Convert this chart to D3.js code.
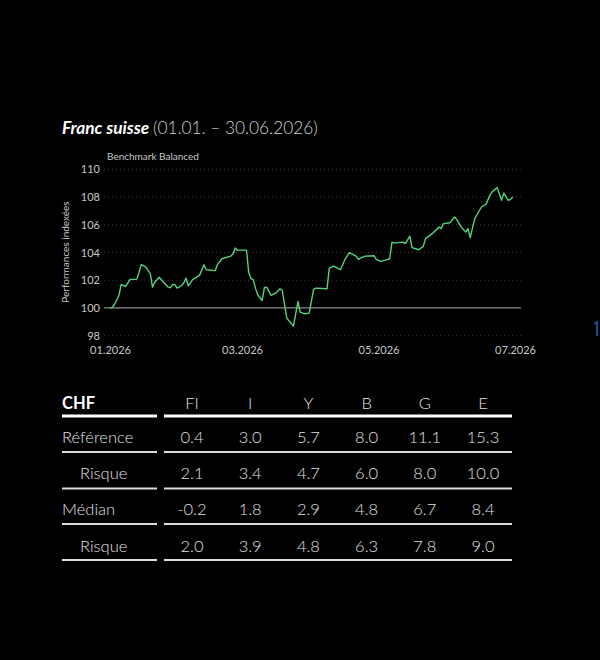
<!DOCTYPE html>
<html>
<head>
<meta charset="utf-8">
<script src="https://cdn.jsdelivr.net/npm/d3@7"></script>
<style>
  body { margin: 0; background: #000; }
  svg { display: block; font-family: Lato, "Open Sans", sans-serif; }
</style>
</head>
<body>
<div id="container"></div>
<script>
// données
let dates = ["01-01","01-02","01-03","01-05","01-06","01-07","01-08","01-10","01-12","01-13",
  "01-14","01-15","01-17","01-19","01-20","01-21","01-23","01-25","01-27","01-28",
  "01-29","01-30","01-31","02-02","02-03","02-04","02-05","02-07","02-08","02-10",
  "02-12","02-13","02-17","02-18","02-20","02-24","02-25","02-26","02-27","03-02",
  "03-03","03-04","03-05","03-06","03-07","03-08","03-10","03-11","03-12","03-14",
  "03-16","03-18","03-19","03-21","03-24","03-26","03-27","03-29","03-31","04-02",
  "04-03","04-08","04-09","04-11","04-14","04-16","04-18","04-21","04-22","04-23",
  "04-25","04-29","04-30","05-02","05-04","05-06","05-07","05-08","05-12","05-13",
  "05-15","05-16","05-19","05-21","05-22","05-25","05-28","05-29","05-30","06-02",
  "06-04","06-05","06-07","06-09","06-10","06-11","06-13","06-16","06-18","06-20",
  "06-21","06-23","06-25","06-26","06-28","06-29","06-30"];
let values = [100.0,100.04,100.25,100.9,101.7,101.62,101.55,102.06,102.06,102.08,
  102.58,103.14,102.95,102.47,101.5,101.86,102.22,101.86,101.5,101.46,
  101.7,101.68,101.43,101.62,101.82,102.15,101.6,102.06,102.15,102.35,
  103.12,102.76,102.69,103.12,103.55,103.74,103.91,104.32,104.15,104.17,
  104.17,102.58,102.11,102.04,101.43,100.95,100.54,101.46,101.5,100.9,
  101.07,101.39,101.26,99.26,98.69,100.47,99.7,99.58,99.63,101.34,
  101.43,101.39,102.87,103.02,102.76,103.5,103.99,103.74,103.5,103.6,
  103.74,103.77,103.5,103.36,103.45,103.55,104.75,104.68,104.75,104.64,
  105.18,104.35,104.2,104.44,105.0,105.36,105.83,105.72,106.08,106.15,
  106.56,106.37,105.83,105.47,105.72,105.07,106.44,107.28,107.47,108.19,
  108.41,108.68,107.76,108.29,107.76,107.83,108.0];
let yTicks = [98, 100, 102, 104, 106, 108, 110];
let xTicks = ["2026-01-01", "2026-03-01", "2026-05-01", "2026-07-01"];

let columns = ["FI", "I", "Y", "B", "G", "E"];
let rowLabels = ["Référence", "Risque", "Médian", "Risque"];
let rowIndent = [false, true, false, true];
let reference = ["0.4", "3.0", "5.7", "8.0", "11.1", "15.3"];
let referenceRisk = ["2.1", "3.4", "4.7", "6.0", "8.0", "10.0"];
let median = ["-0.2", "1.8", "2.9", "4.8", "6.7", "8.4"];
let medianRisk = ["2.0", "3.9", "4.8", "6.3", "7.8", "9.0"];
let rows = [reference, referenceRisk, median, medianRisk];

let parse = d3.timeParse("%Y-%m-%d");
let data = dates.map(function (d, i) { return { date: parse("2026-" + d), value: values[i] }; });

let svg = d3.select("#container")
    .append("svg")
    .attr("width", 600)
    .attr("height", 660)
    .style("background-color", "#000");

// titre
let title = svg.append("text")
    .attr("x", 62)
    .attr("y", 134)
    .attr("font-size", 17.3)
    .attr("fill", "#fff");
title.append("tspan").attr("font-weight", 700).attr("font-style", "italic").text("Franc suisse ");
title.append("tspan").attr("font-weight", 300).attr("fill", "#d0d0d0").text("(01.01. – 30.06.2026)");

svg.append("text")
    .attr("x", 107)
    .attr("y", 160)
    .attr("font-size", 10)
    .attr("fill", "#c8c8c8")
    .text("Benchmark Balanced");

// échelles
let xScale = d3.scaleTime()
    .domain([parse("2026-01-01"), parse("2026-07-01")])
    .range([110, 515]);

let yScale = d3.scaleLinear()
    .domain([98, 110])
    .range([335.7, 169.3]);

// grille
svg.append("g")
    .selectAll("line")
    .data(yTicks.filter(d => d !== 100))
    .enter()
    .append("line")
    .attr("x1", 104)
    .attr("x2", 521)
    .attr("y1", d => yScale(d))
    .attr("y2", d => yScale(d))
    .attr("stroke", "#3a3a3a")
    .attr("stroke-width", 1)
    .attr("stroke-dasharray", "1,3");

svg.append("line")
    .attr("x1", 104)
    .attr("x2", 521)
    .attr("y1", yScale(100))
    .attr("y2", yScale(100))
    .attr("stroke", "#8a8a8a")
    .attr("stroke-width", 1.2);

// axes
let yAxis = d3.axisLeft(yScale).tickValues(yTicks).tickSize(0).tickPadding(0);
let yg = svg.append("g")
    .attr("transform", "translate(100,0)")
    .call(yAxis);
yg.select(".domain").remove();
yg.selectAll("text")
    .attr("font-family", "Lato, sans-serif")
    .attr("font-size", 11)
    .attr("fill", "#c8c8c8");

let xAxis = d3.axisBottom(xScale)
    .tickValues(xTicks.map(parse))
    .tickFormat(d3.timeFormat("%m.%Y"))
    .tickSize(0)
    .tickPadding(0);
let xg = svg.append("g")
    .attr("transform", "translate(0,346)")
    .call(xAxis);
xg.select(".domain").remove();
xg.selectAll("text")
    .attr("font-family", "Lato, sans-serif")
    .attr("font-size", 11)
    .attr("fill", "#c8c8c8");

svg.append("text")
    .attr("transform", "translate(69,252) rotate(-90)")
    .attr("text-anchor", "middle")
    .attr("font-size", 10)
    .attr("fill", "#c8c8c8")
    .text("Performances indexées");

// courbe
let line = d3.line()
    .x(d => xScale(d.date))
    .y(d => yScale(d.value));

svg.append("path")
    .datum(data)
    .attr("d", line)
    .attr("fill", "none")
    .attr("stroke", "#55d27f")
    .attr("stroke-width", 1.4)
    .attr("stroke-linejoin", "round");

// tableau
let colX = d3.scalePoint().domain(columns).range([192, 483]);
let rowY = d3.scaleLinear().domain([1, 4]).range([437, 546]);
let headerY = 403;

svg.append("text")
    .attr("x", 62)
    .attr("y", headerY)
    .attr("dy", "0.35em")
    .attr("font-size", 16.5)
    .attr("font-weight", 700)
    .attr("fill", "#fff")
    .text("CHF");

svg.append("g")
    .selectAll("text")
    .data(columns)
    .enter()
    .append("text")
    .attr("x", d => colX(d))
    .attr("y", headerY)
    .attr("dy", "0.35em")
    .attr("text-anchor", "middle")
    .attr("font-size", 16.5)
    .attr("font-weight", 300)
    .attr("fill", "#e0e0e0")
    .text(d => d);

let lineYs = [416, 452, 488.5, 524, 560];
lineYs.forEach(function (ly, i) {
    [[62, 157], [164, 512]].forEach(function (seg) {
        svg.append("line")
            .attr("x1", seg[0])
            .attr("x2", seg[1])
            .attr("y1", ly)
            .attr("y2", ly)
            .attr("stroke", i === 0 ? "#fff" : "#dcdcdc")
            .attr("stroke-width", i === 0 ? 2.8 : 2);
    });
});

rows.forEach(function (r, i) {
    let y = rowY(i + 1);
    svg.append("text")
        .attr("x", rowIndent[i] ? 80 : 62)
        .attr("y", y)
        .attr("dy", "0.35em")
        .attr("font-size", 16.5)
        .attr("font-weight", 300)
        .attr("fill", "#e0e0e0")
        .text(rowLabels[i]);
    svg.append("g")
        .selectAll("text")
        .data(r)
        .enter()
        .append("text")
        .attr("x", (d, j) => colX(columns[j]))
        .attr("y", y)
        .attr("dy", "0.35em")
        .attr("text-anchor", "middle")
        .attr("font-size", 16.5)
        .attr("font-weight", 300)
        .attr("fill", "#e0e0e0")
        .text(d => d);
});

// petit repère bleu coupé au bord droit
svg.append("path")
    .attr("d", "M594,324 L597,322 L597,336")
    .attr("fill", "none")
    .attr("stroke", "#1d4a8a")
    .attr("stroke-width", 2);
</script>
</body>
</html>
